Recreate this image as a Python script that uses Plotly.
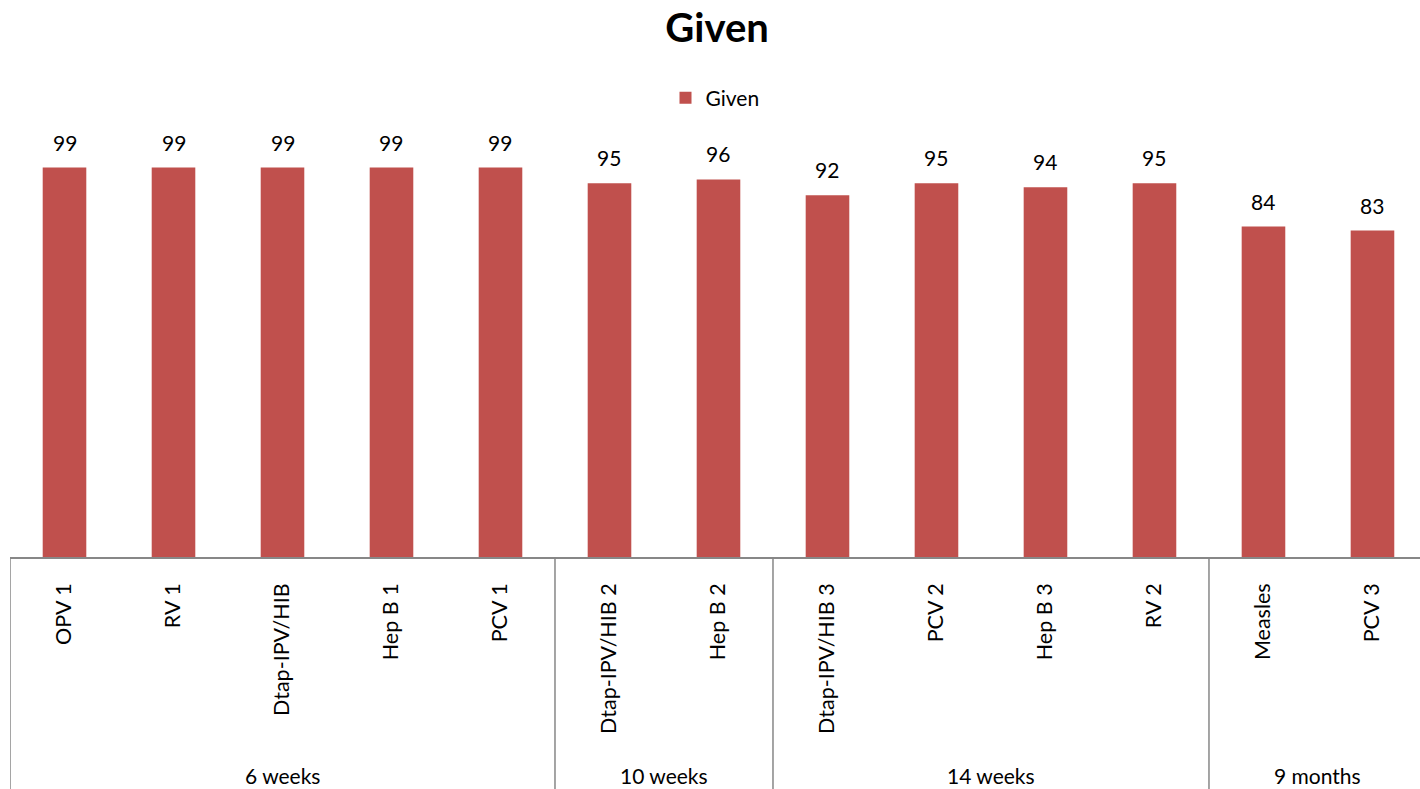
import plotly.graph_objects as go

vaccines = ["OPV 1", "RV 1", "Dtap-IPV/HIB", "Hep B 1", "PCV 1",
            "Dtap-IPV/HIB 2", "Hep B 2",
            "Dtap-IPV/HIB 3", "PCV 2", "Hep B 3", "RV 2",
            "Measles", "PCV 3"]
given = [99, 99, 99, 99, 99, 95, 96, 92, 95, 94, 95, 84, 83]
groups = ["6 weeks", "10 weeks", "14 weeks", "9 months"]
group_sizes = [5, 2, 4, 2]

FONT = "Lato, 'Open Sans', sans-serif"
BAR = "#C0504D"
LINE = "#878787"

fig = go.Figure()
fig.add_trace(go.Bar(
    x=vaccines, y=given, name="Given",
    marker=dict(color=BAR, line=dict(width=0)),
    width=0.4,
))

shapes = []
annotations = []
for v, val in zip(vaccines, given):
    annotations.append(dict(text=str(val), xref="x", yref="y", x=v, y=val,
                            yanchor="bottom", yshift=11, showarrow=False,
                            font=dict(family=FONT, size=21, color="black")))
start = 0
shapes.append(dict(type="line", xref="x", yref="paper", x0=-0.5, x1=-0.5,
                   y0=0, y1=-0.5, line=dict(color=LINE, width=1.5)))
for g, n in zip(groups, group_sizes):
    end = start + n
    mid = (start + end - 1) / 2
    annotations.append(dict(text=g, xref="x", yref="paper", x=mid, y=0,
                            yanchor="middle", yshift=-218, showarrow=False,
                            font=dict(family=FONT, size=21, color="black")))
    if end < len(vaccines):
        shapes.append(dict(type="line", xref="x", yref="paper",
                           x0=end - 0.5, x1=end - 0.5, y0=0, y1=-0.5,
                           line=dict(color=LINE, width=1.5)))
    start = end

fig.update_layout(
    width=1420, height=789,
    margin=dict(l=10, r=0, t=85, b=232),
    paper_bgcolor="white", plot_bgcolor="white",
    title=dict(text="<b>Given</b>", x=0.505, xanchor="center",
               y=1 - 28 / 789, yanchor="middle",
               font=dict(family=FONT, size=40, color="black")),
    showlegend=True,
    legend=dict(orientation="h", x=0.5, xanchor="center", y=0.972,
                yanchor="middle", font=dict(family=FONT, size=21, color="black"),
                bgcolor="rgba(0,0,0,0)", itemwidth=30),
    xaxis=dict(type="category", range=[-0.5, 12.436], tickangle=-90,
               showline=True, linecolor=LINE, linewidth=1.5,
               ticks="outside", ticklen=16, tickcolor="rgba(0,0,0,0)",
               tickfont=dict(family=FONT, size=21.5, color="black"),
               showgrid=False, zeroline=False),
    yaxis=dict(range=[0, 120], visible=False, showgrid=False, zeroline=False),
    shapes=shapes, annotations=annotations,
    bargap=0.6,
)

fig.write_html("out.html")
